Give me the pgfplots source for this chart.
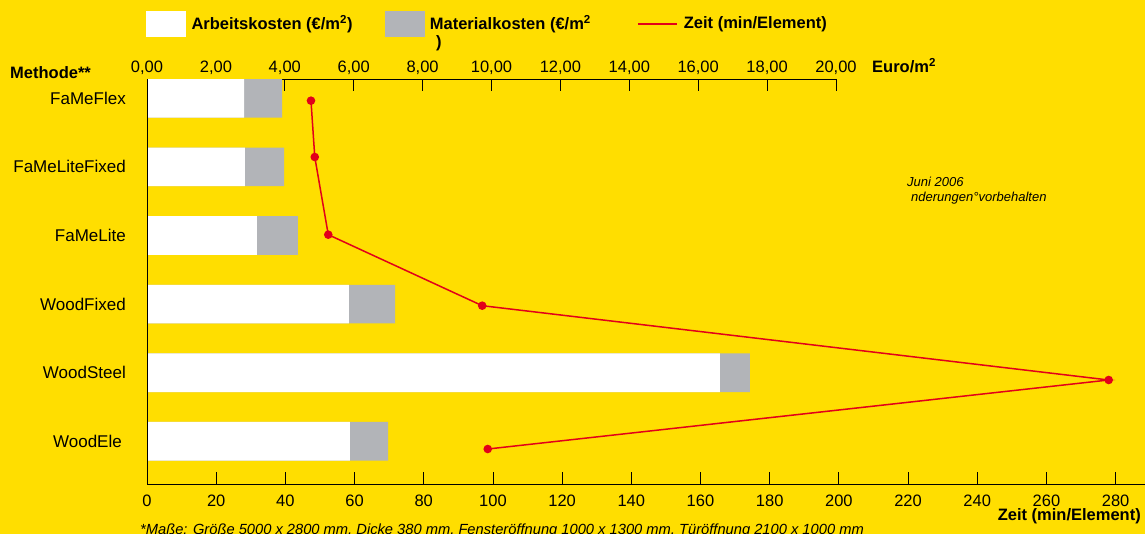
\documentclass[border=0pt]{standalone}
\usepackage{pgfplots}
\pgfplotsset{compat=1.18}
\usepackage{fontspec}
\setmainfont{Liberation Sans}
\definecolor{bg}{RGB}{255,222,0}
\definecolor{matgray}{RGB}{178,180,184}
\definecolor{zeitred}{RGB}{226,0,26}
\newcommand{\fs}[1]{\fontsize{#1}{#1}\selectfont}

\begin{document}
\begin{tikzpicture}
\path[use as bounding box, fill=bg] (0,0) rectangle (1145bp,534bp);

% Kosten (Euro/m2), obere Achse
\begin{axis}[
  at={(147bp,50bp)}, anchor=south west,
  scale only axis, width=689bp, height=405bp,
  xmin=0, xmax=20, ymin=-0.281, ymax=5.622, y dir=reverse,
  axis x line*=top, axis y line=none,
  axis line style={black, line width=0.8bp},
  xtick={0,2,...,20}, ytick=\empty,
  tick align=inside, major tick length=12bp,
  every tick/.style={black, line width=0.8bp},
  tick label style={font=\fs{16.5bp}},
  xticklabel style={inner sep=0pt},
  xticklabel shift=4.5bp,
  /pgf/number format/.cd, fixed, fixed zerofill, precision=2, use comma, assume math mode=true,
  /pgfplots/.cd,
  legend columns=3,
  legend style={draw=none, fill=none, at={(axis description cs:-0.0015,1.137)}, anchor=west,
    font=\bfseries\fs{16.5bp}, inner sep=0pt,
    /tikz/every odd column/.append style={column sep=4bp},
    /tikz/every even column/.append style={column sep=30bp}},
  legend cell align=left,
]
\addplot[xbar, bar shift=0pt, bar width=38.7bp, fill=matgray, draw=none, forget plot]
  coordinates {(3.92,0) (3.98,1) (4.38,2) (7.20,3) (17.50,4) (7.00,5)};
\addplot[xbar, bar shift=0pt, bar width=38.7bp, fill=white, draw=none, forget plot]
  coordinates {(2.82,0) (2.84,1) (3.19,2) (5.86,3) (16.63,4) (5.89,5)};
\addlegendimage{legend image code/.code={\fill[white] (0bp,-12.5bp) rectangle (39bp,12.5bp);}}
\addlegendimage{legend image code/.code={\fill[matgray] (0bp,-12.5bp) rectangle (39bp,12.5bp);}}
\addlegendimage{legend image code/.code={\draw[zeitred, line width=2bp] (0bp,0bp) -- (39bp,0bp);}}
\legend{Arbeitskosten (€/m\textsuperscript{2}),Materialkosten (€/m\textsuperscript{2}\rule{14bp}{0pt},Zeit (min/Element)}
\end{axis}

% Zeit (min/Element), untere Achse
\begin{axis}[
  at={(147bp,50bp)}, anchor=south west,
  scale only axis, width=998bp, height=405bp,
  xmin=0, xmax=288.5, ymin=-0.281, ymax=5.622, y dir=reverse,
  axis x line*=bottom, axis y line*=left,
  axis line style={black, line width=0.8bp},
  xtick={0,20,...,280}, tick align=inside, major tick length=12bp,
  every tick/.style={black, line width=0.8bp},
  ytick={0,...,5},
  yticklabels={FaMeFlex,FaMeLiteFixed,FaMeLite,WoodFixed,WoodSteel,WoodEle\rule{4bp}{0pt}},
  ytick style={draw=none},
  tick label style={font=\fs{16.5bp}},
  yticklabel style={font=\fs{17bp}, inner sep=0pt},
  yticklabel shift=21bp,
  xticklabel style={inner sep=0pt},
  xticklabel shift=11bp,
  /pgf/number format/assume math mode=true,
]
\addplot[zeitred, line width=1.5bp, mark=*, mark size=3.5bp, mark options={solid, fill=zeitred}]
  coordinates {(47.4,0.035) (48.5,0.856) (52.4,1.988) (96.9,3.023) (278.0,4.106) (98.5,5.112)};
\end{axis}

\node[anchor=west, inner sep=0pt, font=\bfseries\fs{16.5bp}] at (10bp,461.5bp) {Methode**};
\node[anchor=west, inner sep=0pt, font=\bfseries\fs{16.5bp}] at (436bp,491bp) {)};
\node[anchor=west, inner sep=0pt, font=\bfseries\fs{16.5bp}] at (872bp,468bp) {Euro/m\textsuperscript{2}};
\node[anchor=east, inner sep=0pt, font=\bfseries\fs{16.5bp}] at (1141bp,18bp) {Zeit (min/Element)};
\node[anchor=west, inner sep=0pt, font=\itshape\fs{13bp}] at (907bp,352.3bp) {Juni 2006};
\node[anchor=west, inner sep=0pt, font=\itshape\fs{13bp}] at (911bp,336.3bp) {nderungen°vorbehalten};
\node[anchor=north west, inner sep=0pt, font=\itshape\fs{14.7bp}] at (140bp,10bp)
  {*Maße: Größe 5000 x 2800 mm, Dicke 380 mm, Fensteröffnung 1000 x 1300 mm, Türöffnung 2100 x 1000 mm};
\end{tikzpicture}
\end{document}
